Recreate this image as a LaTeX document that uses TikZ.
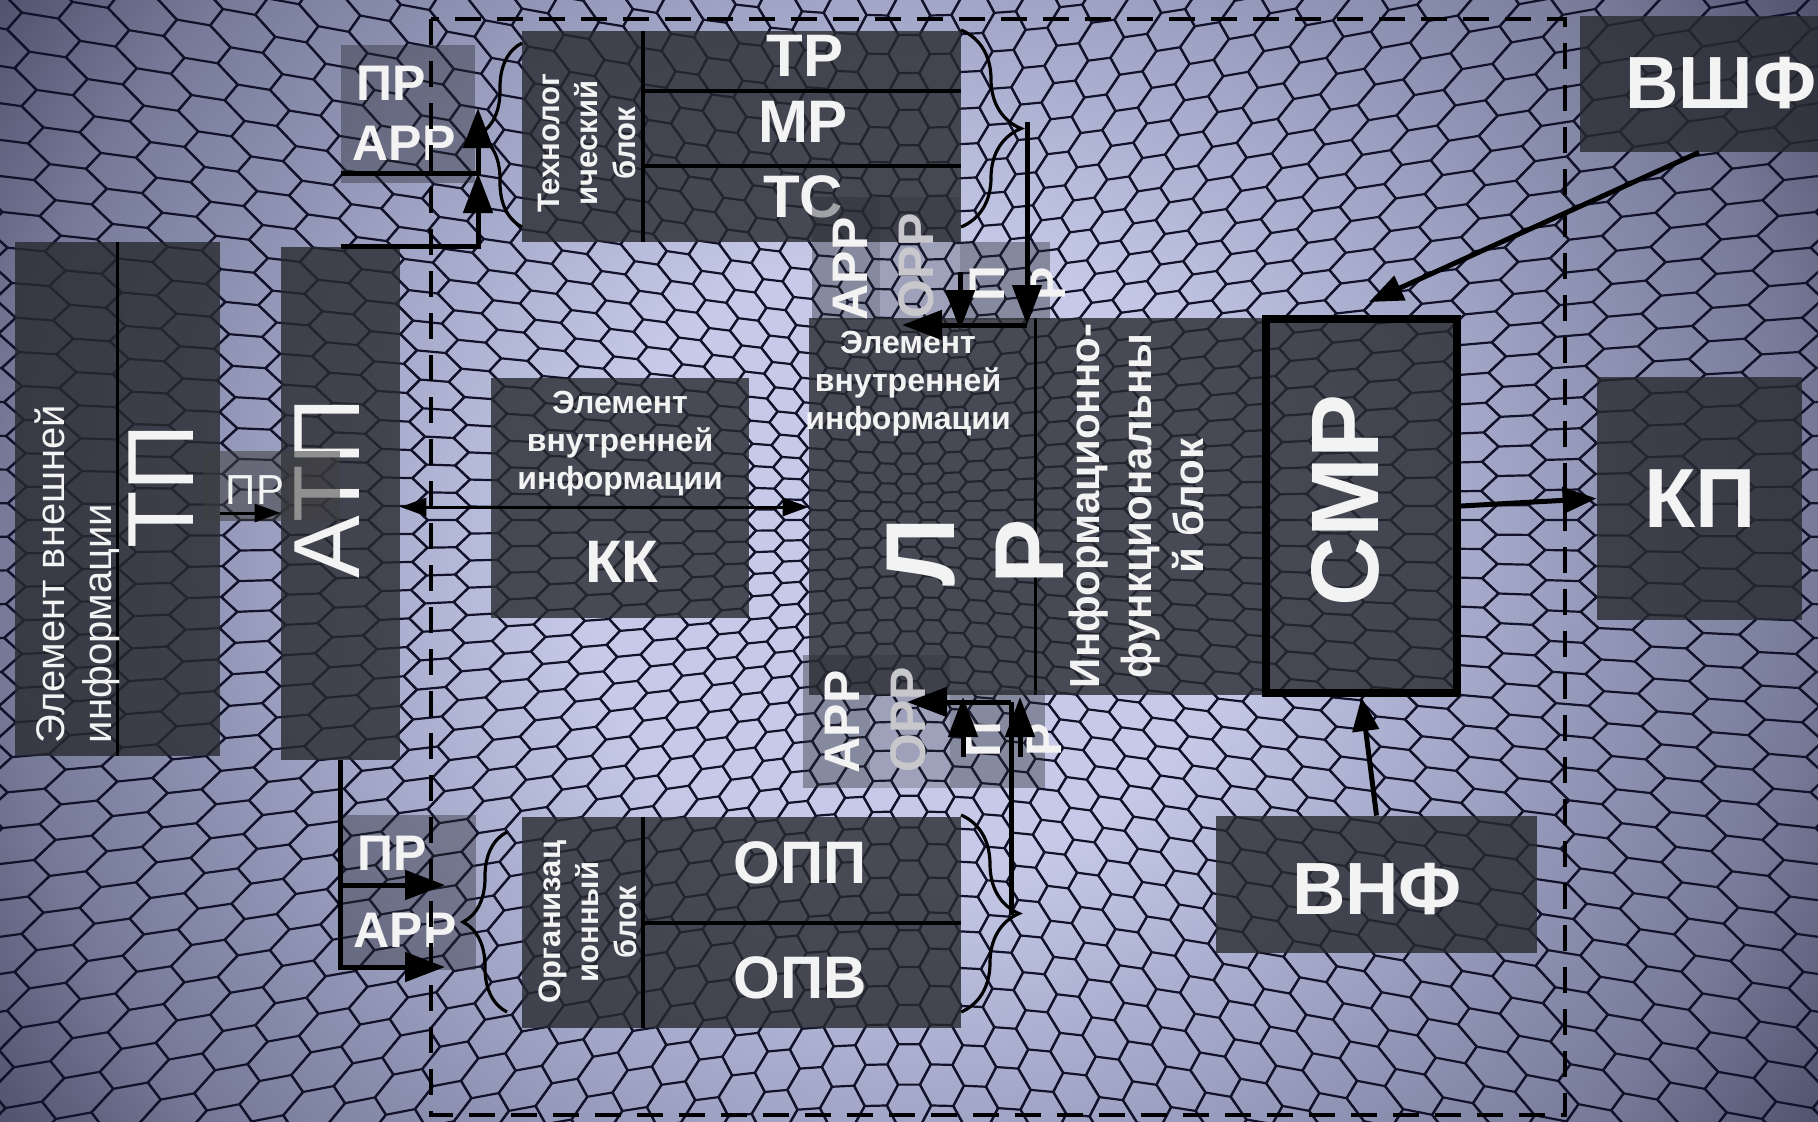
\documentclass[tikz,border=0pt]{standalone}
\usepackage{fontspec}
\setmainfont{Liberation Sans}
\usetikzlibrary{arrows.meta,decorations.pathreplacing}

\definecolor{hexlight}{RGB}{198,202,232}
\definecolor{hexmid}{RGB}{158,162,195}
\definecolor{hexdeep}{RGB}{118,122,152}
\definecolor{hexdark}{RGB}{78,82,108}
\definecolor{hexedge}{RGB}{18,18,42}
\definecolor{panelgray}{RGB}{40,42,48}
\definecolor{txtwhite}{RGB}{243,243,243}
\definecolor{txtgray}{RGB}{200,200,204}

\pgfdeclareradialshading{bgglow}{\pgfpoint{0bp}{0bp}}{color(0bp)=(hexlight); color(9bp)=(hexlight); color(17bp)=(hexmid); color(25bp)=(hexdeep); color(30bp)=(hexdark); color(50bp)=(hexdark)}

\newcommand{\fsz}[2]{\fontsize{#1}{#2}\selectfont}

\tikzset{
	declare function={hexX(\u,\v)=909+909*\u*(0.5+0.5*veclen(\u,\v)); hexY(\u,\v)=520+909*\v*(0.5+0.5*veclen(\u,\v));},
	panel/.style={rectangle, fill=panelgray, fill opacity=0.8, inner sep=0pt},
	tagbox/.style={rectangle, fill=panelgray, fill opacity=0.4, inner sep=0pt},
	caption/.style={text=txtwhite, inner sep=0pt, align=center},
	divider/.style={line width=1.8pt},
	bigarrow/.style={line width=2.5pt, -{Triangle[length=20pt,width=14.5pt]}},
	midarrow/.style={line width=2.5pt, -{Triangle[length=17pt,width=13pt]}},
	thinarrow/.style={line width=1.5pt, -{Triangle[length=13pt,width=9pt]}},
	twoway/.style={line width=1.5pt, {Triangle[length=13pt,width=9pt]}-{Triangle[length=13pt,width=9pt]}},
	bracket/.style={line width=1.6pt, decorate, decoration={brace, amplitude=#1}},
	bracket/.default=22pt,
	frame/.style={line width=2pt, dash pattern=on 13pt off 8pt}
}

\begin{document}
\begin{tikzpicture}[x=0.5pt, y=-0.5pt]
	\useasboundingbox (0,0) rectangle (1818,1121);

	% background
	\begin{scope}
		\clip (0,0) rectangle (1818,1121);
		\shade[shading=bgglow] (0,-300) rectangle (1818,1421);
		\foreach \i [evaluate=\i as \ul using {(\i-0.667)*0.042}, evaluate=\i as \uli using {(\i-0.333)*0.042},
			evaluate=\i as \uri using {(\i+0.333)*0.042}, evaluate=\i as \ur using {(\i+0.667)*0.042},
			evaluate=\i as \voff using {mod(abs(\i),2)*0.5}] in {-25,...,25}{
			\draw[hexedge, line width=1.1pt] \foreach \j [evaluate=\j as \vt using {(\j+\voff-0.5)*0.037},
				evaluate=\j as \vm using {(\j+\voff)*0.037}, evaluate=\j as \vb using {(\j+\voff+0.5)*0.037}] in {-21,...,20}{
				({hexX(\ur,\vm)},{hexY(\ur,\vm)}) -- ({hexX(\uri,\vb)},{hexY(\uri,\vb)}) -- ({hexX(\uli,\vb)},{hexY(\uli,\vb)})
				-- ({hexX(\ul,\vm)},{hexY(\ul,\vm)}) -- ({hexX(\uli,\vt)},{hexY(\uli,\vt)}) -- ({hexX(\uri,\vt)},{hexY(\uri,\vt)}) -- cycle};
		}
	\end{scope}

	% TP and ATP
	\node[panel, minimum width=102.5pt, minimum height=257pt] (tpBox) at (117.5,499) {};
	\draw[divider] (tpBox.north) -- (tpBox.south);
	\node[caption, rotate=90, align=left, font=\fsz{20}{23.5}] (tpCaption) at (77,574) {Элемент внешней\\информации};
	\node[caption, rotate=90, font=\fsz{47}{50}] (tpName) at (161,486) {ТП};

	\node[panel, minimum width=59.5pt, minimum height=256.5pt] (atpBox) at (340.5,503.5) {};
	\node[caption, rotate=90, font=\fsz{47}{50}] (atpName) at (327,488) {АТП};
	\node[tagbox, fill=gray!50!black, fill opacity=0.55, minimum width=68.5pt, minimum height=35pt] (prMid) at (271.5,486) {};
	\node[caption, font=\fsz{21}{24}] (prMidText) at (255,490) {ПР};

	% technological block
	\node[panel, minimum width=219.5pt, minimum height=105.5pt] (techBox) at (741.5,136.5) {};
	\draw[divider] (643,0 |- techBox.north) -- (643,0 |- techBox.south);
	\draw[divider] (643,91) -- (techBox.east |- 0,91);
	\draw[divider] (643,166) -- (techBox.east |- 0,166);
	\node[caption, rotate=90, font=\fsz{15.5}{19}\bfseries] (techCaption) at (587,143) {Технолог\\ический\\блок};
	\node[caption, font=\fsz{30}{34}\bfseries] (trName) at (805,56) {ТР};
	\node[caption, font=\fsz{30}{34}\bfseries] (mrName) at (803,122) {МР};
	\node[caption, font=\fsz{30}{34}\bfseries] (tcName) at (803,197) {ТС};

	\node[tagbox, minimum width=67pt, minimum height=31pt] (prTop) at (408,76) {};
	\node[tagbox, minimum width=67pt, minimum height=38pt] (arrTop) at (408,145) {};
	\node[caption, font=\fsz{25}{30}\bfseries] (prTopText) at (391,83) {ПР};
	\node[caption, font=\fsz{25}{30}\bfseries] (arrTopText) at (404,143) {АРР};

	% KK
	\node[panel, minimum width=129pt, minimum height=120pt] (kkBox) at (620,498) {};
	\node[caption, font=\fsz{16}{19}\bfseries] (kkCaption) at (620,444) {Элемент\\внутренней\\информации};
	\node[caption, font=\fsz{30}{34}\bfseries] (kkName) at (622,562) {КК};

	% LR, info block, SMR
	\node[panel, minimum width=113pt, minimum height=188.5pt] (lrBox) at (922,506.5) {};
	\node[panel, minimum width=113.5pt, minimum height=188.5pt] (infoBox) at (1148.5,506.5) {};
	\draw[divider] (lrBox.north east) -- (lrBox.south east);
	\node[panel, draw=black, draw opacity=1, line width=4pt, minimum width=95.5pt, minimum height=187pt] (cmrBox) at (1361.5,506) {};
	\node[caption, font=\fsz{16}{19}\bfseries] (lrCaption) at (908,384) {Элемент\\внутренней\\информации};
	\node[caption, rotate=90, font=\fsz{49}{54.5}\bfseries] (lrName) at (975.5,552) {Л\\Р};
	\node[caption, rotate=90, font=\fsz{21}{26}\bfseries] (infoCaption) at (1136,506) {Информационно-\\функциональны\\й блок};
	\node[caption, rotate=90, font=\fsz{48}{50}\bfseries] (cmrName) at (1345,500) {СМР};

	\node[tagbox, minimum width=34pt, minimum height=61.5pt] (arrUp) at (846,258.5) {};
	\node[tagbox, fill opacity=0.25, minimum width=40pt, minimum height=61.5pt] (orrUp) at (920,258.5) {};
	\node[tagbox, minimum width=45pt, minimum height=39pt] (prUp) at (1005,281) {};
	\node[caption, rotate=90, font=\fsz{25}{30.5}\bfseries] (arrUpText) at (850,269) {АРР};
	\node[caption, rotate=90, font=\fsz{25}{30.5}\bfseries, text=txtgray] (orrUpText) at (916,266) {ОРР};
	\node[caption, rotate=90, font=\fsz{25}{30.5}\bfseries] (prUpText) at (1018,284) {П\\Р};

	\node[tagbox, minimum width=33.5pt, minimum height=66.5pt] (arrDn) at (836.5,721.5) {};
	\node[tagbox, fill opacity=0.25, minimum width=40pt, minimum height=66.5pt] (orrDn) at (910,721.5) {};
	\node[tagbox, minimum width=47.5pt, minimum height=49pt] (prDn) at (997.5,739) {};
	\node[caption, rotate=90, font=\fsz{25}{30.5}\bfseries] (arrDnText) at (842,722) {АРР};
	\node[caption, rotate=90, font=\fsz{25}{30.5}\bfseries, text=txtgray] (orrDnText) at (908,720) {ОРР};
	\node[caption, rotate=90, font=\fsz{25}{30.5}\bfseries] (prDnText) at (1014,740) {П\\Р};

	% organisational block
	\node[panel, minimum width=219.5pt, minimum height=105.5pt] (orgBox) at (741.5,922.5) {};
	\draw[divider] (643,0 |- orgBox.north) -- (643,0 |- orgBox.south);
	\draw[divider] (643,923) -- (orgBox.east |- 0,923);
	\node[caption, rotate=90, font=\fsz{15.5}{19}\bfseries] (orgCaption) at (588,922) {Организац\\ионный\\блок};
	\node[caption, font=\fsz{30}{34}\bfseries] (oppName) at (800,863) {ОПП};
	\node[caption, font=\fsz{30}{34}\bfseries] (opvName) at (800,978) {ОПВ};

	\node[tagbox, minimum width=67.5pt, minimum height=38.5pt] (prBot) at (408.5,853.5) {};
	\node[tagbox, minimum width=67.5pt, minimum height=39pt] (arrBot) at (408.5,931) {};
	\node[caption, font=\fsz{25}{30}\bfseries] (prBotText) at (392,853) {ПР};
	\node[caption, font=\fsz{25}{30}\bfseries] (arrBotText) at (405,930) {АРР};

	% right side
	\node[panel, minimum width=119pt, minimum height=68pt] (vshfBox) at (1699,84) {};
	\node[caption, font=\fsz{37}{40}\bfseries] (vshfName) at (1721,83) {ВШФ};
	\node[panel, minimum width=102.5pt, minimum height=121.5pt] (kpBox) at (1699.5,498.5) {};
	\node[caption, font=\fsz{42}{45}\bfseries] (kpName) at (1700,499) {КП};
	\node[panel, minimum width=160.5pt, minimum height=68.5pt] (vnfBox) at (1376.5,884.5) {};
	\node[caption, font=\fsz{37}{40}\bfseries] (vnfName) at (1377,889) {ВНФ};

	% system frame
	\draw[frame] (431,19) rectangle (1565,1115);

	% braces
	\draw[bracket] (522,227) -- (522,43);
	\draw[bracket=30pt] (961,30) -- (961,227);
	\draw[bracket] (507,1012) -- (507,832);
	\draw[bracket=29pt] (961,815) -- (961,1012);

	% connectors
	\coordinate (techIn) at (478,108);
	\coordinate (techMid) at (478,173);
	\coordinate (atpUp) at (341,173);
	\coordinate (orgInUp) at (445,885);
	\coordinate (orgInDn) at (445,967);
	\coordinate (techOut) at (1027,122);
	\coordinate (lrTopJoin) at (1027,325);
	\coordinate (lrTopIn) at (902,325);
	\coordinate (orrUpFoot) at (960,272);
	\coordinate (orrUpTip) at (960,330);
	\coordinate (orgOut) at (1011,915);
	\coordinate (lrBotJoin) at (1011,702);
	\coordinate (lrBotIn) at (907,702);
	\coordinate (prDnFootA) at (963,757);
	\coordinate (prDnTipA) at (963,697);
	\coordinate (prDnFootB) at (1020,757);
	\coordinate (prDnTipB) at (1020,697);
	\coordinate (cmrTop) at (1369,302);

	\draw[thinarrow] (tpBox.east |- 0,513) -- (atpBox.west |- 0,513);
	\draw[twoway] (atpBox.east |- 0,507) -- (lrBox.west |- 0,507);

	\draw[bigarrow] (atpBox.north) -- (atpBox.north -| techMid) -- (techMid);
	\draw[bigarrow] (atpUp) -- (techMid) -- (techIn);
	\draw[bigarrow] (atpBox.south) |- (orgInDn);
	\draw[bigarrow] (atpBox.south |- orgInUp) -- (orgInUp);

	\draw[bigarrow] (techOut) -- (lrTopJoin);
	\draw[bigarrow] (lrTopJoin) -- (lrTopIn);
	\draw[bigarrow] (orrUpFoot) -- (orrUpTip);

	\draw[line width=2.5pt] (orgOut) -- (lrBotJoin);
	\draw[bigarrow] (lrBotJoin) -- (lrBotIn);
	\draw[bigarrow] (prDnFootA) -- (prDnTipA);
	\draw[bigarrow] (prDnFootB) -- (prDnTipB);

	\draw[midarrow] (vshfBox.south) -- (cmrTop);
	\draw[midarrow] (cmrBox.east) -- (kpBox.west);
	\draw[midarrow] (vnfBox.north) -- (cmrBox.south);
\end{tikzpicture}
\end{document}
